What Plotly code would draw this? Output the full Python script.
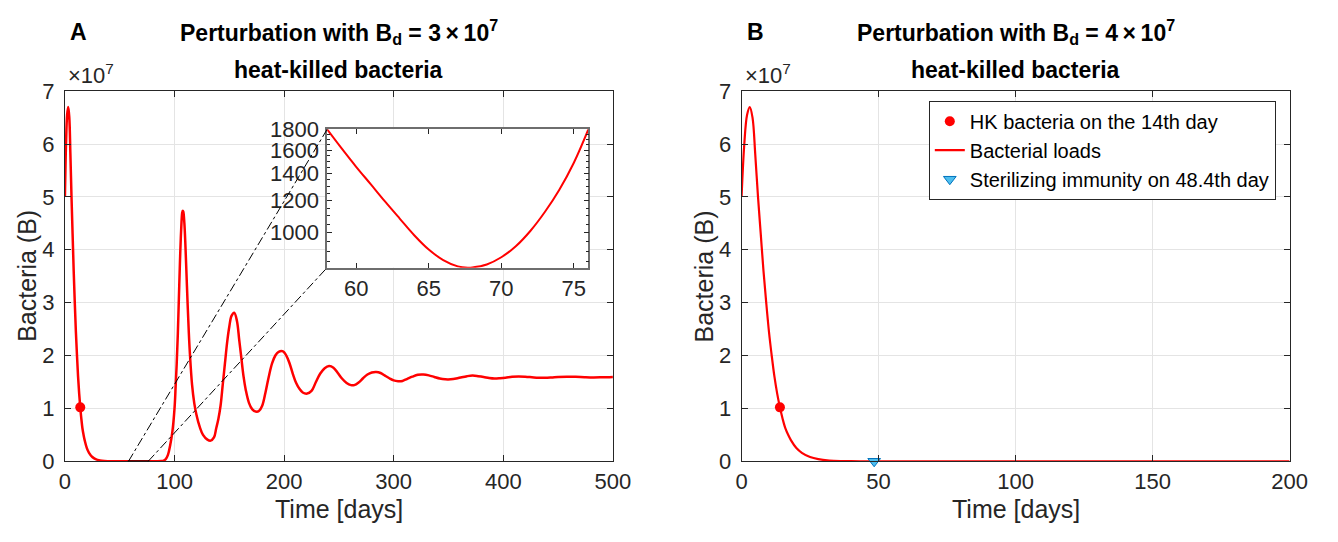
import math
import plotly.graph_objects as go

W, H = 1338, 542

# ---------------- data ----------------
days_A = [0, 1, 2, 3, 4, 5, 6, 7, 8, 9, 10, 11, 12, 13, 14, 15, 16, 17, 18, 20, 22, 25, 28, 32, 36,
          40, 45, 50, 55,
          58, 59, 60, 61, 62, 63, 64, 65, 66, 67, 67.7, 68, 69, 70, 71, 72, 73, 74, 75, 76,
          80, 84, 88, 90, 92, 94, 96, 98, 100, 101, 102, 103, 104, 105, 106, 107, 107.5, 108,
          109, 110, 111, 112, 113, 114, 116, 118, 120, 123, 126, 130, 133, 136, 138, 140, 142,
          144, 146, 148, 150, 152, 154.5, 157, 159, 161, 163, 165, 168, 171, 174, 177, 180, 183,
          186, 189, 192, 195, 199, 202, 205, 208, 211, 214, 217, 221, 225, 229, 233, 237, 241,
          245, 249, 253, 257, 261, 264, 268, 272, 276, 280, 284, 288, 292, 296, 300, 304, 308,
          312, 317, 322, 327, 332, 337, 342, 347, 352, 357, 362, 367, 372, 377, 382, 387, 392,
          397, 402, 408, 414, 420, 426, 432, 438, 444, 450, 458, 466, 474, 482, 490, 500]
bacteria_A = [5.0e7, 6.0e7, 6.55e7, 6.7e7, 6.5e7, 5.8e7, 5.0e7, 4.3e7, 3.6e7, 3.0e7, 2.45e7, 2.0e7,
              1.6e7, 1.28e7, 1.02e7, 0.8e7, 0.62e7, 0.5e7, 0.4e7, 0.25e7, 0.16e7, 0.08e7, 0.04e7,
              1.5e5, 5e4,
              2.2e4, 9e3, 4e3, 2.4e3,
              1800, 1615, 1455, 1318, 1193, 1084, 986, 909, 856, 826, 820, 821, 835, 870, 926,
              1010, 1125, 1277, 1489, 1800,
              4.0e3, 1.2e4, 5e4, 1.2e5, 4e5, 1.2e6, 3e6, 5.5e6, 1.0e7, 1.4e7, 1.85e7, 2.4e7, 3.1e7,
              3.8e7, 4.35e7, 4.7e7, 4.74e7, 4.72e7,
              4.5e7, 4.05e7, 3.5e7, 2.95e7, 2.45e7, 2.05e7, 1.45e7, 1.1e7, 0.88e7, 0.65e7, 0.5e7,
              0.41e7, 0.39e7, 0.45e7, 0.62e7, 0.8e7, 1.05e7,
              1.45e7, 1.85e7, 2.25e7, 2.55e7, 2.75e7, 2.81e7, 2.65e7, 2.3e7, 1.95e7, 1.6e7, 1.35e7,
              1.1e7, 0.98e7, 0.94e7, 0.95e7, 1.05e7, 1.3e7,
              1.6e7, 1.85e7, 2.0e7, 2.07e7, 2.08e7, 2.0e7, 1.85e7, 1.65e7, 1.48e7, 1.37e7, 1.3e7,
              1.28e7, 1.33e7, 1.5e7, 1.66e7, 1.76e7, 1.8e7,
              1.77e7, 1.67e7, 1.56e7, 1.48e7, 1.44e7, 1.44e7, 1.49e7, 1.57e7, 1.64e7, 1.68e7,
              1.69e7, 1.67e7, 1.62e7, 1.57e7, 1.53e7, 1.515e7, 1.52e7,
              1.555e7, 1.6e7, 1.635e7, 1.64e7, 1.625e7, 1.595e7, 1.565e7, 1.55e7, 1.55e7, 1.565e7,
              1.59e7, 1.61e7, 1.62e7, 1.61e7, 1.595e7, 1.575e7, 1.565e7,
              1.57e7, 1.58e7, 1.6e7, 1.605e7, 1.6e7, 1.59e7, 1.58e7, 1.578e7, 1.585e7, 1.595e7,
              1.6e7, 1.598e7, 1.59e7, 1.585e7, 1.588e7, 1.595e7]

days_B = [0, 1, 2, 3, 4, 5, 6, 7, 8, 9, 10, 11, 12, 13, 14, 15, 16, 17, 18, 20, 22, 25, 28, 32, 36,
          40, 45, 50, 60, 80, 100, 150, 200]
bacteria_B = [5.0e7, 6.0e7, 6.55e7, 6.7e7, 6.5e7, 5.8e7, 5.0e7, 4.3e7, 3.6e7, 3.0e7, 2.45e7, 2.0e7,
              1.6e7, 1.28e7, 1.02e7, 0.8e7, 0.62e7, 0.5e7, 0.4e7, 0.25e7, 0.16e7, 0.08e7, 0.04e7,
              1.5e5, 5e4, 2e4, 5e3, 0, 0, 0, 0, 0, 0]

hk_day = 14
hk_value_A = 1.02e7
hk_value_B = 1.02e7
sterile_day = 48.4
sterile_value = 0

zoom_window = [58, 76]
inset_ylim = [820, 1800]

x_ticks_A = [0, 100, 200, 300, 400, 500]
x_ticks_B = [0, 50, 100, 150, 200]
y_ticks = [0, 1e7, 2e7, 3e7, 4e7, 5e7, 6e7, 7e7]
y_ticklabels = ["0", "1", "2", "3", "4", "5", "6", "7"]
inset_xticks = [60, 65, 70, 75]
inset_yticks = [1000, 1200, 1400, 1600, 1800]
inset_yminor = [850, 900, 950, 1050, 1100, 1150, 1250, 1300, 1350, 1450, 1500, 1550, 1650, 1700, 1750]

legend_labels = ["HK bacteria on the 14th day", "Bacterial loads", "Sterilizing immunity on 48.4th day"]

# ---------------- layout helpers ----------------
def px(x):
    return x / W

def py(y):
    return 1 - y / H

A_x = [px(60), px(618)]
B_x = [px(749), px(1307)]
Y_dom = [py(471), py(83)]
I_x = [px(327), px(593)]
I_y = [py(268), py(123)]

FONT = "Liberation Sans"
DARK = "#262626"
RED = "#FF0000"
TICK_SIZE = 22

fig = go.Figure()

# Panel A
fig.add_trace(go.Scatter(x=days_A, y=bacteria_A, mode="lines", line=dict(color=RED, width=2.5, shape="spline"),
                         xaxis="x", yaxis="y", showlegend=False))
fig.add_trace(go.Scatter(x=[hk_day], y=[hk_value_A], mode="markers", marker=dict(color=RED, size=10),
                         xaxis="x", yaxis="y", showlegend=False, cliponaxis=False))

# Panel B
fig.add_trace(go.Scatter(x=days_B, y=bacteria_B, mode="lines", line=dict(color=RED, width=2.2, shape="spline"),
                         xaxis="x2", yaxis="y2", name=legend_labels[1], legendrank=2))
fig.add_trace(go.Scatter(x=[hk_day], y=[hk_value_B], mode="markers", marker=dict(color=RED, size=10),
                         xaxis="x2", yaxis="y2", name=legend_labels[0], legendrank=1, cliponaxis=False))
fig.add_trace(go.Scatter(x=[sterile_day], y=[sterile_value], mode="markers",
                         marker=dict(color="#4DBEEE", size=11, symbol="triangle-down",
                                     line=dict(color="#0072BD", width=1)),
                         xaxis="x2", yaxis="y2", name=legend_labels[2], legendrank=3, cliponaxis=False))

# Inset (subset of panel A data within zoom window)
ins_t = [t for t in days_A if zoom_window[0] <= t <= zoom_window[1]]
ins_v = [v for t, v in zip(days_A, bacteria_A) if zoom_window[0] <= t <= zoom_window[1]]
fig.add_trace(go.Scatter(x=ins_t, y=ins_v, mode="lines", line=dict(color=RED, width=2, shape="spline"),
                         xaxis="x3", yaxis="y3", showlegend=False))

tickfont = dict(family=FONT, size=TICK_SIZE, color=DARK)
ax_common = dict(showline=True, linecolor=DARK, linewidth=1, mirror="ticks", ticks="inside", ticklen=6,
                 tickcolor=DARK, tickfont=tickfont, showgrid=True, gridcolor="#e4e4e4", gridwidth=1,
                 zeroline=False)

fig.update_layout(
    width=W, height=H, margin=dict(l=0, r=0, t=0, b=0),
    paper_bgcolor="white", plot_bgcolor="white",
    xaxis=dict(domain=A_x, range=[0, 500], tickvals=x_ticks_A, anchor="y", **ax_common),
    yaxis=dict(domain=Y_dom, range=[0, 7e7], tickvals=y_ticks, ticktext=y_ticklabels, anchor="x",
               ticklabelstandoff=5, **ax_common),
    xaxis2=dict(domain=B_x, range=[0, 200], tickvals=x_ticks_B, anchor="y2", **ax_common),
    yaxis2=dict(domain=Y_dom, range=[0, 7e7], tickvals=y_ticks, ticktext=y_ticklabels, anchor="x2",
                ticklabelstandoff=5, **ax_common),
    xaxis3=dict(domain=I_x, range=zoom_window, tickvals=inset_xticks, anchor="y3", showline=True,
                linecolor="#6e6e6e", linewidth=1.5, mirror="ticks", ticks="inside", ticklen=5,
                tickcolor=DARK, tickfont=tickfont, showgrid=False, zeroline=False),
    yaxis3=dict(domain=I_y, type="log", range=[math.log10(inset_ylim[0]), math.log10(inset_ylim[1])],
                tickvals=inset_yticks, ticktext=[str(v) for v in inset_yticks], anchor="x3",
                showline=True, linecolor="#6e6e6e", linewidth=1.5, mirror="ticks", ticks="inside",
                ticklen=5, tickcolor=DARK, tickfont=tickfont, showgrid=False, zeroline=False,
                ticklabelstandoff=2,
                minor=dict(tickmode="array", tickvals=inset_yminor, ticks="inside", ticklen=3,
                           tickcolor=DARK)),
    legend=dict(x=px(1293), xanchor="right", y=py(93), yanchor="top", bgcolor="white",
                bordercolor=DARK, borderwidth=1, font=dict(family=FONT, size=20, color="black"),
                tracegroupgap=0),
    showlegend=True,
)

# zoom window rectangle + dash-dot connectors
def a_to_paper_x(t):
    return A_x[0] + (t - 0) / 500 * (A_x[1] - A_x[0])

fig.add_shape(type="rect", xref="x", yref="y", x0=zoom_window[0], x1=zoom_window[1],
              y0=inset_ylim[0], y1=inset_ylim[1], line=dict(color="black", width=1.5))
fig.add_shape(type="line", xref="paper", yref="paper", x0=a_to_paper_x(zoom_window[0]), y0=Y_dom[0],
              x1=I_x[0], y1=I_y[1], line=dict(color="black", width=1, dash="dashdot"))
fig.add_shape(type="line", xref="paper", yref="paper", x0=a_to_paper_x(zoom_window[1]), y0=Y_dom[0],
              x1=I_x[0], y1=I_y[0], line=dict(color="black", width=1, dash="dashdot"))

# texts
def ann(text, x, y, size, xanchor="center", yanchor="middle", color="black", angle=0):
    fig.add_annotation(text=text, x=x, y=y, xref="paper", yref="paper", showarrow=False,
                       xanchor=xanchor, yanchor=yanchor, textangle=angle,
                       font=dict(family=FONT, size=size, color=color))

for dom, letter, val in [(A_x, "A", "3"), (B_x, "B", "4")]:
    cx = (dom[0] + dom[1]) / 2
    ann("<b>Perturbation with B<sub>d</sub> = %s\u2009\u00d7\u200910<sup>7</sup></b>" % val, cx, py(21), 23)
    ann("<b>heat-killed bacteria</b>", cx, py(61), 23)
    ann("<b>%s</b>" % letter, dom[0] + px(3), py(21), 23, xanchor="left")
    ann("\u00d710<sup>7</sup>", dom[0] + px(1), py(82), TICK_SIZE, xanchor="left", yanchor="bottom", color=DARK)
    ann("Time [days]", cx, py(521), 25, color=DARK)
    ann("Bacteria (B)", dom[0] - px(38), (Y_dom[0] + Y_dom[1]) / 2, 25, color=DARK, angle=-90)

fig.write_html("out.html")
